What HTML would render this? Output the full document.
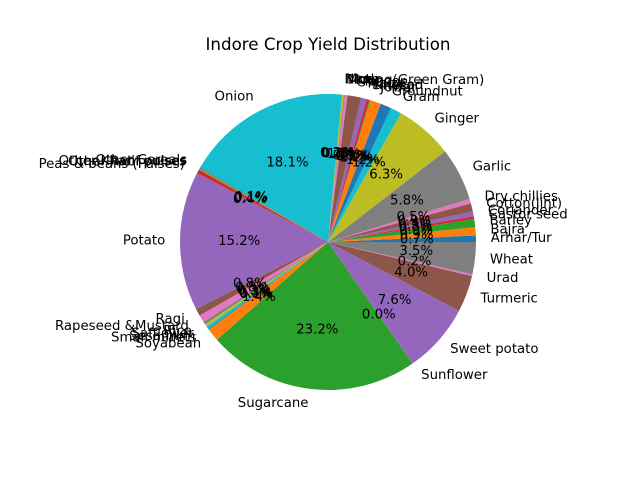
<!DOCTYPE html>
<html><head><meta charset="utf-8"><style>
body{margin:0;background:#fff}
svg{display:block}
text{font-family:"DejaVu Sans","Liberation Sans",sans-serif;fill:#000}
</style></head><body>
<svg id="chart" width="640" height="480" viewBox="0 0 640 480">
<rect width="640" height="480" fill="#fff"/>
<text x="328" y="50" text-anchor="middle" font-size="16.7">Indore Crop Yield Distribution</text>
<g id="slices"></g><g id="labels"></g>
</svg>
<script>
const categories=["Arhar/Tur","Bajra","Barley","Castor seed","Coriander","Cotton(lint)","Dry chillies","Garlic","Ginger","Gram","Groundnut","Jowar","Khesari","Linseed","Maize","Masoor","Moong(Green Gram)","Moth","Niger","Onion","Other Cereals","Other Kharif pulses","Other Rabi pulses","Peas & beans (Pulses)","Potato","Ragi","Rapeseed &Mustard","Rice","Safflower","Sesamum","Small millets","Soyabean","Sugarcane","Sunflower","Sweet potato","Turmeric","Urad","Wheat"];
const values=[0.7,0.9,0.9,0.3,0.5,0.9,0.5,5.8,6.3,1.2,1.2,1.2,0.1,0.3,0.6,1.5,0.3,0.1,0.2,18.1,0.1,0.1,0.1,0.4,15.2,0.8,0.8,0.3,0.3,0.3,0.1,1.4,23.2,0.02,7.6,4.0,0.2,3.5];
const colors=["#1f77b4","#ff7f0e","#2ca02c","#d62728","#9467bd","#8c564b","#e377c2","#7f7f7f","#bcbd22","#17becf"];
const cx=328,cy=242,R=148;
const NS="http://www.w3.org/2000/svg";
const total=values.reduce((a,b)=>a+b,0);
const gS=document.getElementById('slices'),gL=document.getElementById('labels');
function pt(a,r){return [cx+r*Math.cos(a),cy-r*Math.sin(a)];}
let acc=0;
values.forEach((v,i)=>{
  const a0=acc/total*2*Math.PI;acc+=v;const a1=acc/total*2*Math.PI;
  const p0=pt(a0,R),p1=pt(a1,R);const large=(a1-a0)>Math.PI?1:0;
  const p=document.createElementNS(NS,'path');
  p.setAttribute('d',`M${cx},${cy}L${p0[0]},${p0[1]}A${R},${R} 0 ${large} 0 ${p1[0]},${p1[1]}Z`);
  p.setAttribute('fill',colors[i%10]);
  
  
  gS.appendChild(p);
  const am=(a0+a1)/2;
  const lp=pt(am,R*1.1);
  const t=document.createElementNS(NS,'text');
  t.setAttribute('x',lp[0]);t.setAttribute('y',lp[1]);
  t.setAttribute('font-size','13.3');t.setAttribute('dominant-baseline','central');
  t.setAttribute('text-anchor',Math.cos(am)>=0?'start':'end');
  t.textContent=categories[i];
  
  
  gL.appendChild(t);
  const pp=pt(am,R*0.6);
  const u=document.createElementNS(NS,'text');
  u.setAttribute('x',pp[0]);u.setAttribute('y',pp[1]);
  u.setAttribute('font-size','13.3');u.setAttribute('dominant-baseline','central');
  u.setAttribute('text-anchor','middle');
  u.textContent=(v/total*100).toFixed(1)+'%';
  
  
  gL.appendChild(u);
});
</script>
</body></html>
